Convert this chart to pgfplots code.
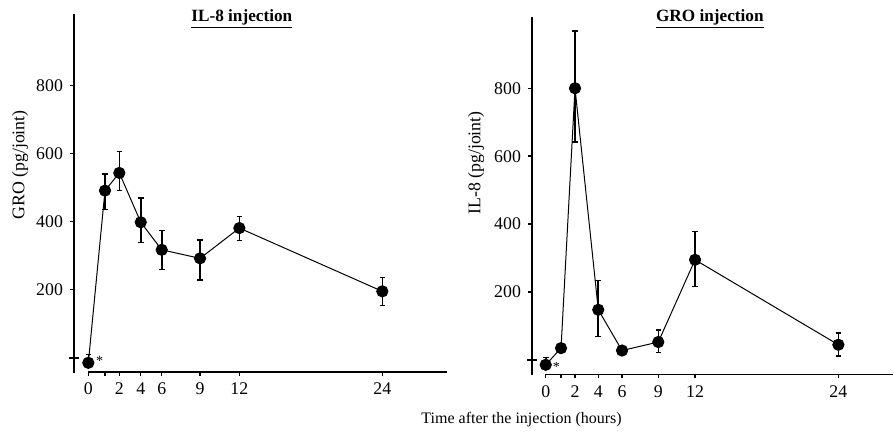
\documentclass[border=0pt]{standalone}
\usepackage{fontspec}
\setmainfont{Liberation Serif}
\usepackage{pgfplots}
\usepackage{pgfplotstable}
\pgfplotsset{compat=1.18}

% pos = place on the (uneven) time axis, h = hours
\pgfplotstableread{
pos   h   y    ep   em
0     0   -15  24   0
1.36  1   491  49   56
2.53  2   543  63   52
4.28  4   398  71   59
5.99  6   317  57   58
9.12  9   292  54   63
12.33 12  381  34   37
24.0  24  195  41   42
}\groinj

\pgfplotstableread{
pos   h   y    ep   em
0     0   -14  22   0
1.25  1   35   10   10
2.39  2   800  169  158
4.29  4   148  86   79
6.23  6   28   8    8
9.19  9   53   36   31
12.19 12  295  83   79
23.89 24  45   34   34
}\ilinj

\pgfplotsset{
  panel/.style={
    scale only axis, clip=false,
    axis x line=bottom, axis y line=left,
    axis line style={draw=none},
    tick align=outside, major tick length=2pt,
    tick style={black, line width=0.7pt},
    ytick={200,400,600,800},
    minor tick num=0,
    tick label style={font=\fontsize{8.9}{10}\selectfont},
    /pgf/number format/assume math mode=true,
    xticklabels={0,,2,4,6,9,12,24},
    ymin=-42, ymax=1010,
  },
  dat/.style={black, line width=0.5pt, mark=*, mark size=2.8pt,
    error bars/.cd, y dir=both, y explicit,
    error bar style={line width=0.8pt},
    error mark options={rotate=90, mark size=1.4pt, line width=0.8pt}},
}

\begin{document}
\begin{tikzpicture}[x=1pt,y=1pt]
\useasboundingbox (0,0) rectangle (447,220);

\begin{axis}[panel, at={(37pt,34pt)}, anchor=south west,
  width=186.5pt, height=179pt,
  xmin=-1.17, xmax=29.28,
  xtick={0,1.36,2.53,4.28,5.99,9.12,12.33,24.0}]
  \draw[line width=1pt] (axis cs:-1.17,-44) -- (axis cs:-1.17,1010);
  \draw[line width=0.8pt] (axis cs:0,-42) -- (axis cs:29.28,-42);
  \draw[line width=1.2pt] (axis cs:-1.17,0) ++(-2.4pt,0pt) -- ++(4.8pt,0pt);
  \addplot[dat] table[x=pos, y=y, y error plus=ep, y error minus=em] {\groinj};
\end{axis}

\begin{axis}[panel, at={(266pt,32.85pt)}, anchor=south west,
  width=180.5pt, height=178.7pt,
  xmin=-1.12, xmax=28.35,
  xtick={0,1.25,2.39,4.29,6.23,9.19,12.19,23.89}]
  \draw[line width=1pt] (axis cs:-1.12,-44) -- (axis cs:-1.12,1010);
  \draw[line width=0.8pt] (axis cs:0,-42) -- (axis cs:28.35,-42);
  \draw[line width=1.2pt] (axis cs:-1.12,0) ++(-2.4pt,0pt) -- ++(4.8pt,0pt);
  \addplot[dat] table[x=pos, y=y, y error plus=ep, y error minus=em] {\ilinj};
\end{axis}

\node[font=\fontsize{8.6}{10}\selectfont\bfseries] at (120.9,210.5) {\underline{IL-8 injection}};
\node[font=\fontsize{8.6}{10}\selectfont\bfseries] at (354.9,210.5) {\underline{GRO injection}};
\node[rotate=90, font=\fontsize{8.9}{10}\selectfont] at (10,137.5) {GRO (pg/joint)};
\node[rotate=90, font=\fontsize{8.9}{10}\selectfont] at (238,138.5) {IL-8 (pg/joint)};
\node[font=\fontsize{8}{10}\selectfont] at (260.8,10) {Time after the injection (hours)};
\node[font=\fontsize{7}{8}\selectfont] at (49.8,39.5) {*};
\node[font=\fontsize{7}{8}\selectfont] at (278.2,36.5) {*};
\end{tikzpicture}
\end{document}
